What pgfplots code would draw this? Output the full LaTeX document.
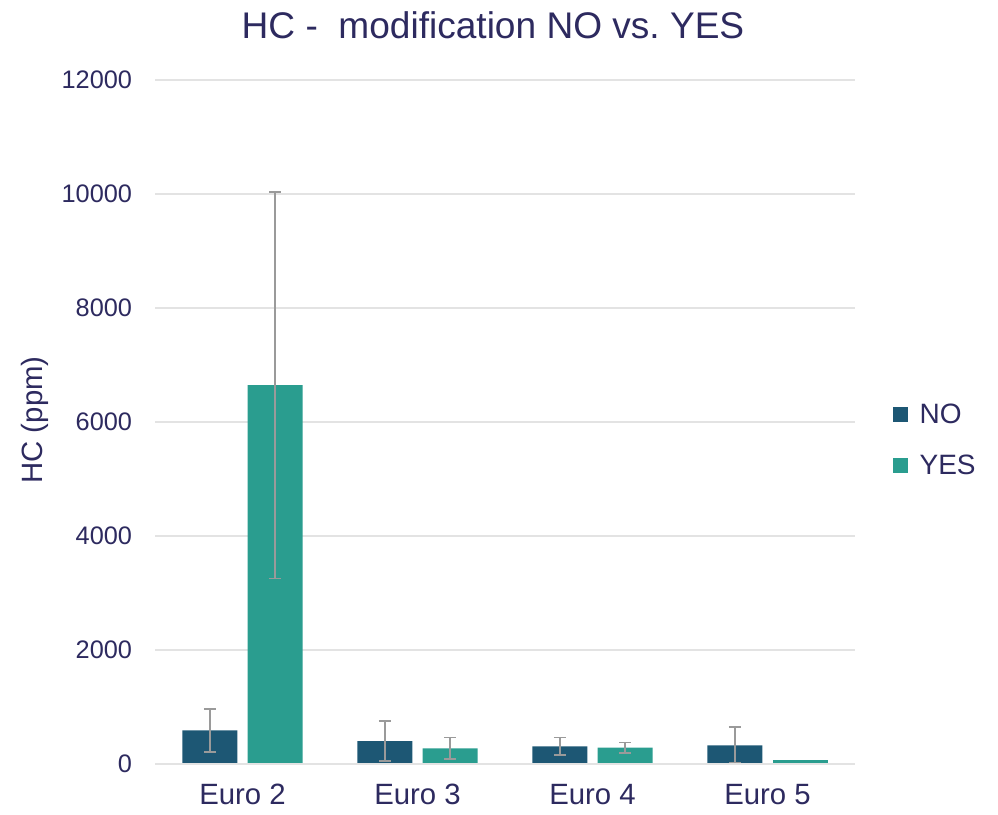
\documentclass[border=0pt]{standalone}
\usepackage{pgfplots}
\pgfplotsset{compat=1.18}
\usepackage{fontspec}
\setmainfont{Liberation Sans}
\definecolor{txt}{HTML}{2D2A5F}
\definecolor{cno}{HTML}{1D5774}
\definecolor{cyes}{HTML}{2A9D8F}
\definecolor{gridc}{HTML}{E3E3E3}
\definecolor{err}{HTML}{9A9A9A}
\begin{document}
\begin{tikzpicture}
\useasboundingbox (-116.25pt,-37.5pt) rectangle (632.25pt,573pt);
\begin{axis}[
  scale only axis, width=525pt, height=513pt,
  at={(0,0)}, anchor=south west,
  xmin=-0.5, xmax=3.5, ymin=0, ymax=12000,
  ybar, bar width=41.25pt,
  axis line style={draw=none},
  ytick={0,2000,...,12000},
  xtick={0,1,2,3},
  xticklabels={Euro 2,Euro 3,Euro 4,Euro 5},
  major tick length=0pt,
  xmajorgrids=false, ymajorgrids=true,
  major grid style={draw=gridc, line width=0.9pt},
  scaled y ticks=false,
  /pgf/number format/assume math mode=true,
  /pgf/number format/1000 sep={},
  yticklabel style={font=\fontsize{19}{22}\selectfont, text=txt, anchor=east, inner sep=0pt, xshift=-17pt},
  xticklabel style={font=\fontsize{22}{26}\selectfont, text=txt, anchor=north, inner sep=0pt, yshift=-15pt},
  legend style={at={(1,0.474)}, anchor=west, xshift=28pt, draw=none, fill=none,
    font=\fontsize{21}{25}\selectfont, text=txt, row sep=22pt,
    inner sep=0pt, nodes={inner sep=0pt}},
  legend cell align=left,
  legend image code/.code={\path[#1,draw=none] (0pt,-5.6pt) rectangle (11.25pt,5.6pt);},
  legend style={/tikz/every odd column/.append style={column sep=9pt}},
  error bars/error bar style={err, line width=1.4pt},
  error bars/error mark options={rotate=90, mark size=4.5pt, err, line width=1.4pt},
  clip=false,
]
\addplot[fill=cno, draw=none, bar shift=-24.4pt,
  error bars/.cd, y dir=both, y explicit]
  coordinates {(0,590) +- (0,380) (1,403) +- (0,345) (2,310) +- (0,155) (3,327) +- (0,316)};
\addlegendentry{NO}
\addplot[fill=cyes, draw=none, bar shift=24.4pt,
  error bars/.cd, y dir=both, y explicit]
  coordinates {(0,6645) +- (0,3390) (1,275) +- (0,190) (2,287) +- (0,90)};
\addlegendentry{YES}
\addplot[fill=cyes, draw=none, bar shift=24.4pt, forget plot]
  coordinates {(3,65)};
\end{axis}
\draw[gridc, line width=1.5pt] (0,0) -- (525pt,0);
\node[text=txt, font=\fontsize{27.8}{32}\selectfont] at (253.5pt,554.25pt) {HC -\ \ modification NO vs.\ YES};
\node[text=txt, font=\fontsize{22}{26}\selectfont, rotate=90] at (-90pt,258pt) {HC (ppm)};
\end{tikzpicture}
\end{document}
